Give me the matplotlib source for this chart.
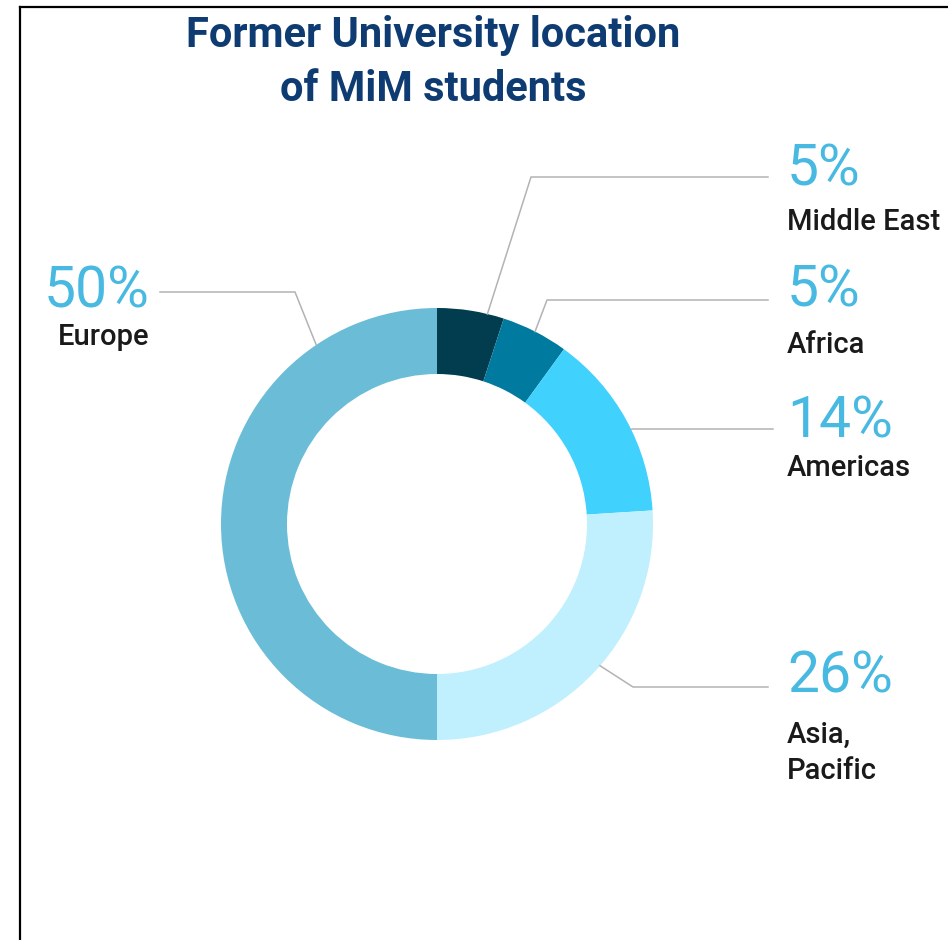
import numpy as np
import matplotlib.pyplot as plt

regions = ["Middle East", "Africa", "Americas", "Asia,\nPacific", "Europe"]
shares = [5, 5, 14, 26, 50]
colors = ["#023d4f", "#007a9f", "#40d1fd", "#c0effd", "#6bbdd7"]

# label layout (pixels): anchor angle on ring (deg clockwise from top), elbow, line end, text pos
anchor_deg = [13.5, 27, 64, 131, -34]
elbow = [(531, 177), (547, 300), (633, 429), (633, 687), (295, 292)]
line_end = [768, 768, 773, 768, 160]
pct_pos = [(787, 170), (787, 291), (787, 422), (787, 677), (150, 292)]
name_pos = [(787, 222), (787, 345), (787, 468), (787, 753), (150, 337)]
align = ["left", "left", "left", "left", "right"]

W, H = 948, 940
cx, cy, R = 437, 524, 216

fig = plt.figure(figsize=(W / 100, H / 100), dpi=100)
ax = fig.add_axes([0, 0, 1, 1])
ax.pie(shares, colors=colors, startangle=-90, counterclock=True,
       center=(cx, cy), radius=R,
       wedgeprops=dict(width=66, linewidth=0))
ax.set_xlim(0, W)
ax.set_ylim(H, 0)
ax.set_aspect("equal")
ax.axis("off")

# frame lines (top and left only)
ax.plot([20, W], [7, 7], color="black", lw=1.6, clip_on=False)
ax.plot([20, 20], [7, H], color="black", lw=1.6, clip_on=False)

title_font = ["Roboto", "DejaVu Sans"]
ax.text(433, 47, "Former University location", ha="center", va="baseline",
        family=title_font, weight="bold", fontsize=30, color="#0e3c72")
ax.text(433, 101, "of MiM students", ha="center", va="baseline",
        family=title_font, weight="bold", fontsize=30, color="#0e3c72")

for i, name in enumerate(regions):
    a = np.radians(anchor_deg[i])
    sx, sy = cx + R * np.sin(a), cy - R * np.cos(a)
    ex, ey = elbow[i]
    ax.plot([sx, ex, line_end[i]], [sy, ey, ey], color="#b3b3b3", lw=1.1)
    px, py = pct_pos[i]
    ax.text(px, py, f"{shares[i]}%", ha=align[i], va="center",
            family=["Roboto", "DejaVu Sans"], weight="normal", fontsize=41,
            color="#48b9e1")
    nx, ny = name_pos[i]
    ax.text(nx, ny, name, ha=align[i], va="center",
            family=["Roboto", "DejaVu Sans"], weight="medium", fontsize=21,
            color="#1a1a1a", linespacing=1.4)

fig.savefig("out.png", dpi=100)
